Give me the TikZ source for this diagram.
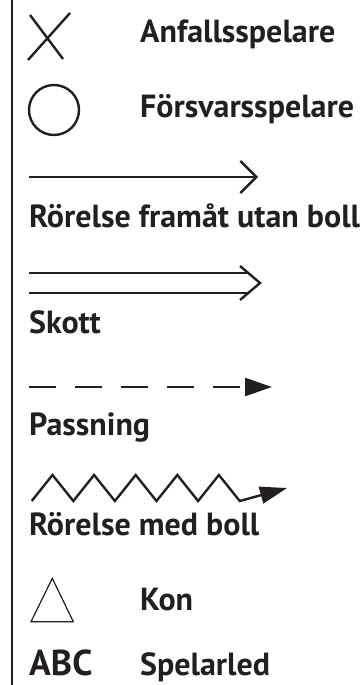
\documentclass[tikz,border=0pt]{standalone}
\usepackage{fontspec}
\setmainfont{PT Sans}
\usetikzlibrary{arrows.meta,positioning}
\definecolor{ink}{HTML}{231F20}
\tikzset{
  lbl/.style={anchor=base west, inner sep=0pt, text=ink,
    font=\fontsize{32}{34}\selectfont\bfseries},
  sym/.style={draw=ink, line width=2.4pt},
}
\begin{document}
\begin{tikzpicture}[x=1pt,y=-1pt]
\useasboundingbox (0,0) rectangle (363,685);
\draw[ink, line width=2.6pt] (12,0) -- (12,685);

% spelare
\draw[sym] (28,60) -- (70,13) (30,15) -- (63,59);
\node[lbl] (anf) at (140,43) {Anfallsspelare};
\node[sym, circle, minimum size=50pt, inner sep=0pt] (ring) at (54,110) {};
\node[lbl] (fors) at (140,117) {Försvarsspelare};

% rorelse utan boll
\coordinate (r1) at (29,177);
\coordinate (r2) at (258,177);
\draw[sym, -{Straight Barb[length=16pt,width=32pt]}] (r1) -- (r2);
\node[lbl] (ror) at (29,227) {Rörelse framåt utan boll};

% skott
\coordinate (s1) at (29,273);
\coordinate (s2) at (29,293);
\coordinate (t1) at (249,273);
\coordinate (t2) at (249,293);
\coordinate (sk) at (260,283);
\draw[sym] (s1) -- (t1) (s2) -- (t2);
\draw[sym] (240,266) -- (sk) -- (240,300);
\node[lbl] (skott) at (29,333) {Skott};

% passning
\coordinate (p1) at (29,387);
\coordinate (p2) at (272,387);
\draw[sym, dash pattern=on 27pt off 19pt,
  -{Triangle[length=27pt,width=18pt]}] (p1) -- (p2);
\node[lbl] (pass) at (29,435) {Passning};

% rorelse med boll
\coordinate (z1) at (31.7,501);
\coordinate (z2) at (287,488);
\draw[sym, line join=miter, -{Triangle[length=27pt,width=17pt]}] (z1)
  \foreach \i in {1,...,5} { -- ++(20.8,-26) -- ++(20.8,26) } -- (z2);
\node[lbl] (med) at (29,535) {Rörelse med boll};

% kon
\draw[draw=ink, line width=1.2pt] (52.3,578.3) -- (31,621.7) -- (73.3,621.7) -- cycle;
\node[lbl] (kon) at (140,610) {Kon};

% spelarled
\node[lbl, font=\fontsize{36}{38}\selectfont\bfseries] (abc) at (29,675) {ABC};
\node[lbl] (led) at (140,675) {Spelarled};
\end{tikzpicture}
\end{document}
